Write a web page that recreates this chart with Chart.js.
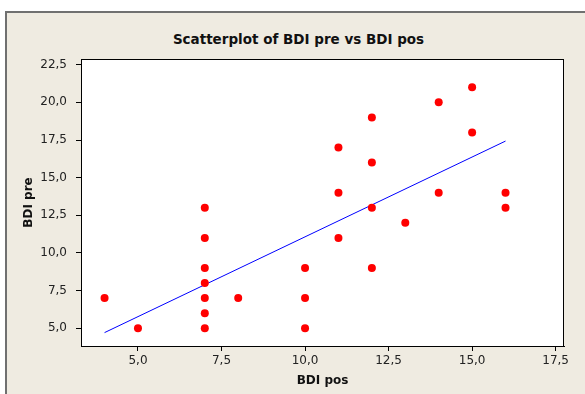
<!DOCTYPE html>
<html lang="en">
<head>
    <meta charset="UTF-8">
    <title>Scatterplot of BDI pre vs BDI pos</title>
    <style>
        body {
            margin: 0;
            background: #ffffff;
            font-family: "DejaVu Sans", sans-serif;
        }

        .frame {
            position: absolute;
            left: 5px;
            top: 11px;
            width: 620px;
            height: 420px;
            border: 2px solid #707070;
            background: #efebe1;
        }

        .title {
            position: absolute;
            left: 0;
            top: 31px;
            width: 597px;
            text-align: center;
            font-weight: bold;
            font-size: 13.5px;
            color: #111;
        }

        canvas {
            position: absolute;
            left: 0;
            top: 0;
        }
    </style>
</head>
<body>
    <div class="frame"></div>
    <div class="title">Scatterplot of BDI pre vs BDI pos</div>
    <canvas id="chart" width="585" height="394"></canvas>

    <script src="https://cdn.jsdelivr.net/npm/chart.js"></script>
    <script>
        // observed values (BDI pos, BDI pre)
        const bdiPos = [4, 5, 7, 7, 7, 7, 7, 7, 7, 8, 10, 10, 10, 11, 11, 11, 12, 12, 12, 12, 13, 14, 14, 15, 15, 16, 16];
        const bdiPre = [7, 5, 13, 11, 9, 8, 7, 6, 5, 7, 9, 7, 5, 17, 14, 11, 19, 16, 13, 9, 12, 20, 14, 21, 18, 14, 13];

        // fitted line end points
        const fitX = [4, 16];
        const fitY = [4.71, 17.43];

        const xTicks = [5, 7.5, 10, 12.5, 15, 17.5];
        const yTicks = [5, 7.5, 10, 12.5, 15, 17.5, 20, 22.5];

        const fmt = v => v.toFixed(1).replace(".", ",");

        // white plot area with a black box round it
        const plotFrame = {
            id: "plotFrame",
            beforeDraw(chart) {
                const { ctx, chartArea: a } = chart;
                ctx.save();
                ctx.fillStyle = "#ffffff";
                ctx.fillRect(a.left, a.top, a.right - a.left, a.bottom - a.top);
                ctx.restore();
            },
            afterDraw(chart) {
                const { ctx, chartArea: a } = chart;
                ctx.save();
                ctx.strokeStyle = "#000000";
                ctx.lineWidth = 1;
                ctx.strokeRect(a.left + 0.5, a.top + 0.5, a.right - a.left - 1, a.bottom - a.top);
                ctx.restore();
            }
        };

        const ctx = document.getElementById("chart").getContext("2d");

        new Chart(ctx, {
            type: "scatter",
            data: {
                datasets: [
                    {
                        label: "BDI pre",
                        data: bdiPos.map((x, i) => ({ x: x, y: bdiPre[i] })),
                        backgroundColor: "#ff0000",
                        borderColor: "#ff0000",
                        pointRadius: 4,
                        pointBorderWidth: 0,
                        order: 1
                    },
                    {
                        label: "Fit",
                        type: "line",
                        data: fitX.map((x, i) => ({ x: x, y: fitY[i] })),
                        borderColor: "#0000ff",
                        borderWidth: 1,
                        pointRadius: 0,
                        fill: false,
                        order: 2
                    }
                ]
            },
            options: {
                responsive: false,
                animation: false,
                devicePixelRatio: 1,
                layout: {
                    padding: { left: 0, top: 59, right: 21, bottom: 0 }
                },
                plugins: {
                    legend: { display: false },
                    title: { display: false },
                    tooltip: { enabled: false }
                },
                scales: {
                    x: {
                        type: "linear",
                        min: 3.295,
                        max: 17.75,
                        afterFit: s => { s.height = 48; },
                        afterBuildTicks: s => { s.ticks = xTicks.map(v => ({ value: v })); },
                        grid: {
                            display: true,
                            drawOnChartArea: false,
                            drawTicks: true,
                            tickLength: 5,
                            color: "#000000"
                        },
                        border: { display: true, color: "#000000", width: 1 },
                        ticks: {
                            padding: 3,
                            color: "#222222",
                            font: { family: "DejaVu Sans", size: 12 },
                            maxRotation: 0,
                            callback: v => fmt(v)
                        },
                        title: {
                            display: true,
                            text: "BDI pos",
                            color: "#111111",
                            font: { family: "DejaVu Sans", size: 12, weight: "bold" },
                            padding: { top: 0, bottom: 6 }
                        }
                    },
                    y: {
                        type: "linear",
                        min: 3.82,
                        max: 22.88,
                        afterFit: s => { s.width = 81; },
                        afterBuildTicks: s => { s.ticks = yTicks.map(v => ({ value: v })); },
                        grid: {
                            display: true,
                            drawOnChartArea: false,
                            drawTicks: true,
                            tickLength: 5,
                            color: "#000000"
                        },
                        border: { display: true, color: "#000000", width: 1 },
                        ticks: {
                            padding: 9,
                            color: "#222222",
                            font: { family: "DejaVu Sans", size: 12 },
                            callback: v => fmt(v)
                        },
                        title: {
                            display: true,
                            text: "BDI pre",
                            color: "#111111",
                            font: { family: "DejaVu Sans", size: 12, weight: "bold" },
                            padding: { top: 22, bottom: 0 }
                        }
                    }
                }
            },
            plugins: [plotFrame]
        });
    </script>
</body>
</html>
